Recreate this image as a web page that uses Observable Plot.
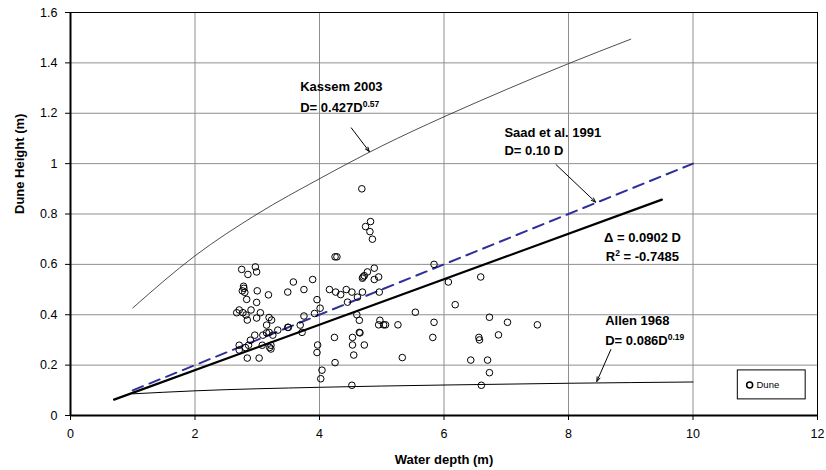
<!DOCTYPE html>
<html><head><meta charset="utf-8">
<script src="https://cdn.jsdelivr.net/npm/d3@7"></script>
<script src="https://cdn.jsdelivr.net/npm/@observablehq/plot@0.6"></script>
<style>
body{margin:0;background:#fff;}
#chart svg{font-family:"Liberation Sans",Arial,sans-serif;}
</style>
</head><body><div id="chart"></div>
<script>
// ---- Data ----
const duneDepth = [
 4.68, 4.82,4.74,4.81,4.85, 4.25,4.28, 5.84, 4.88,4.77,4.70,4.69,4.72,4.95,4.88,
 6.59,6.07, 4.96,4.69,4.52,4.43,4.34,4.26,4.16, 4.61,4.45,
 3.96,4.01,3.92,3.89,3.75,3.58,3.49, 6.18,5.54,
 4.60,4.64,4.97,4.95,5.03,5.06,5.26, 5.84,6.73,7.02,7.50,
 5.82,6.875,6.56,6.57, 4.64,4.65,4.53,4.72,4.53,4.55,
 4.24,3.97,3.96,4.25, 5.33,6.43,6.70,6.73, 4.04,4.02,4.52,6.60,
 2.75,2.97,2.99,2.85, 2.78,2.785,2.76,2.80,3.00,3.18, 2.83,2.99,
 2.71,2.67,2.77,2.90,2.82,3.05, 2.84,3.19,3.23,2.99,3.15,
 3.75,3.69,3.49,3.50,3.33, 3.19,3.15,3.25,3.09,2.96,3.72,
 2.89,2.86,2.71,3.08,3.22,3.20,3.22, 2.71,2.81,2.84,3.03
];
const duneHeight = [
 0.90, 0.77,0.75,0.73,0.70, 0.63,0.63, 0.60, 0.585,0.57,0.55,0.545,0.555,0.55,0.54,
 0.55,0.53, 0.49,0.49,0.49,0.50,0.48,0.49,0.50, 0.47,0.45,
 0.46,0.426,0.405,0.54,0.50,0.53,0.49, 0.44,0.41,
 0.40,0.378,0.378,0.36,0.36,0.36,0.36, 0.37,0.39,0.37,0.36,
 0.31,0.32,0.31,0.30, 0.33,0.328,0.31,0.28,0.28,0.24,
 0.31,0.28,0.25,0.21, 0.23,0.22,0.22,0.17, 0.18,0.146,0.12,0.12,
 0.58,0.59,0.57,0.56, 0.513,0.505,0.495,0.489,0.495,0.479, 0.461,0.449,
 0.419,0.408,0.408,0.419,0.399,0.408, 0.379,0.389,0.379,0.387,0.359,
 0.395,0.359,0.35,0.35,0.339, 0.33,0.328,0.319,0.319,0.319,0.33,
 0.299,0.279,0.279,0.279,0.279,0.27,0.264, 0.26,0.27,0.228,0.228
];
const kassemDepth  = [1, 2, 3, 4, 5, 6, 7, 8, 9];
const kassemHeight = [0.427, 0.634, 0.80, 0.94, 1.07, 1.186, 1.294, 1.397, 1.494];
const saadDepth  = [1, 10];
const saadHeight = [0.10, 1.00];
const fitDepth  = [0.7, 9.5];
const fitHeight = [0.063, 0.857];
const allenDepth  = [1, 2, 4, 6, 8, 10];
const allenHeight = [0.086, 0.098, 0.112, 0.121, 0.128, 0.133];
const xTicks = [0, 2, 4, 6, 8, 10, 12];
const yTicks = [0, 0.2, 0.4, 0.6, 0.8, 1, 1.2, 1.4, 1.6];

// ---- Annotations (data coordinates) ----
const notes = [
  {x: 3.69, y: 1.306, t: "Kassem 2003"},
  {x: 3.69, y: 1.223, t: "D= 0.427D{0.57}"},
  {x: 6.97, y: 1.123, t: "Saad et al. 1991"},
  {x: 6.97, y: 1.052, t: "D= 0.10 D"},
  {x: 8.57, y: 0.707, t: "\u0394 = 0.0902 D"},
  {x: 8.60, y: 0.631, t: "R{2} = -0.7485"},
  {x: 8.59, y: 0.377, t: "Allen 1968"},
  {x: 8.59, y: 0.298, t: "D= 0.086D{0.19}"}
];
const arrows = [
  {x1: 4.51, y1: 1.142, x2: 4.80, y2: 1.048},
  {x1: 7.80, y1: 0.996, x2: 8.435, y2: 0.847},
  {x1: 8.68, y1: 0.262, x2: 8.455, y2: 0.135}
];
const legendBox = [{x1: 10.72, x2: 11.81, y1: 0.179, y2: 0.064}];
const legendItem = [{x: 10.91, y: 0.121, tx: 11.02, label: "Dune"}];

const zip = (xs, ys) => xs.map((x, i) => ({x, y: ys[i]}));
const dunes = zip(duneDepth, duneHeight);
const kassem = zip(kassemDepth, kassemHeight);
const saad = zip(saadDepth, saadHeight);
const fit = zip(fitDepth, fitHeight);
const allen = zip(allenDepth, allenHeight);

const chart = Plot.plot({
  width: 826, height: 470,
  marginLeft: 70, marginRight: 9, marginTop: 12, marginBottom: 55,
  style: {fontFamily: "'Liberation Sans', Arial, sans-serif", fontSize: "12.5px", background: "white", color: "black", overflow: "visible"},
  x: {domain: [0, 12], ticks: xTicks, tickSize: 5, tickPadding: 9, label: null},
  y: {domain: [0, 1.6], ticks: yTicks, tickSize: 5, tickPadding: 8, label: null,
      tickFormat: d => String(+d.toFixed(1))},
  marks: [
    Plot.ruleX(xTicks.slice(1, -1), {stroke: "#8f8f8f", strokeWidth: 1}),
    Plot.ruleY(yTicks.slice(1, -1), {stroke: "#8f8f8f", strokeWidth: 1}),
    Plot.frame({stroke: "black", strokeWidth: 1}),
    Plot.ruleX([0], {stroke: "black", strokeWidth: 2}),
    Plot.ruleY([0], {stroke: "black", strokeWidth: 2}),
    Plot.line(kassem, {x: "x", y: "y", curve: "monotone-x", stroke: "#222", strokeWidth: 0.8}),
    Plot.line(allen, {x: "x", y: "y", curve: "monotone-x", stroke: "black", strokeWidth: 1}),
    Plot.line(saad, {x: "x", y: "y", stroke: "#2f2f9a", strokeWidth: 2, strokeDasharray: "11,7"}),
    Plot.line(fit, {x: "x", y: "y", stroke: "black", strokeWidth: 2.2}),
    Plot.dot(dunes, {x: "x", y: "y", r: 3.3, stroke: "black", strokeWidth: 1, fill: "none"}),
    Plot.arrow(arrows, {x1: "x1", y1: "y1", x2: "x2", y2: "y2", stroke: "black", strokeWidth: 1, headLength: 7, headAngle: 40}),
    Plot.text(notes, {x: "x", y: "y", text: "t", textAnchor: "start", fontWeight: "bold", fontSize: 13}),
    Plot.rect(legendBox, {x1: "x1", x2: "x2", y1: "y1", y2: "y2", fill: "white", stroke: "black", strokeWidth: 1}),
    Plot.dot(legendItem, {x: "x", y: "y", r: 3, stroke: "black", fill: "none"}),
    Plot.text(legendItem, {x: "tx", y: "y", text: "label", textAnchor: "start", fontSize: 9.5}),
    Plot.text(["Dune Height (m)"], {frameAnchor: "left", dx: -51, rotate: -90, fontWeight: "bold", fontSize: 13}),
    Plot.text(["Water depth (m)"], {frameAnchor: "bottom", dy: 48, fontWeight: "bold", fontSize: 13})
  ]
});

// Render superscripts written as {..}
chart.querySelectorAll("text").forEach(el => {
  const s = el.textContent;
  if (!s.includes("{")) return;
  el.textContent = "";
  const parts = s.split(/(\{[^}]*\})/).filter(p => p.length);
  let raised = false;
  parts.forEach(p => {
    const ts = document.createElementNS("http://www.w3.org/2000/svg", "tspan");
    if (p.startsWith("{")) {
      ts.textContent = p.slice(1, -1);
      ts.setAttribute("dy", "-5");
      ts.setAttribute("font-size", "8.5");
      raised = true;
    } else {
      ts.textContent = p;
      if (raised) { ts.setAttribute("dy", "5"); raised = false; }
    }
    el.appendChild(ts);
  });
});

document.getElementById("chart").appendChild(chart);
</script>
</body></html>
